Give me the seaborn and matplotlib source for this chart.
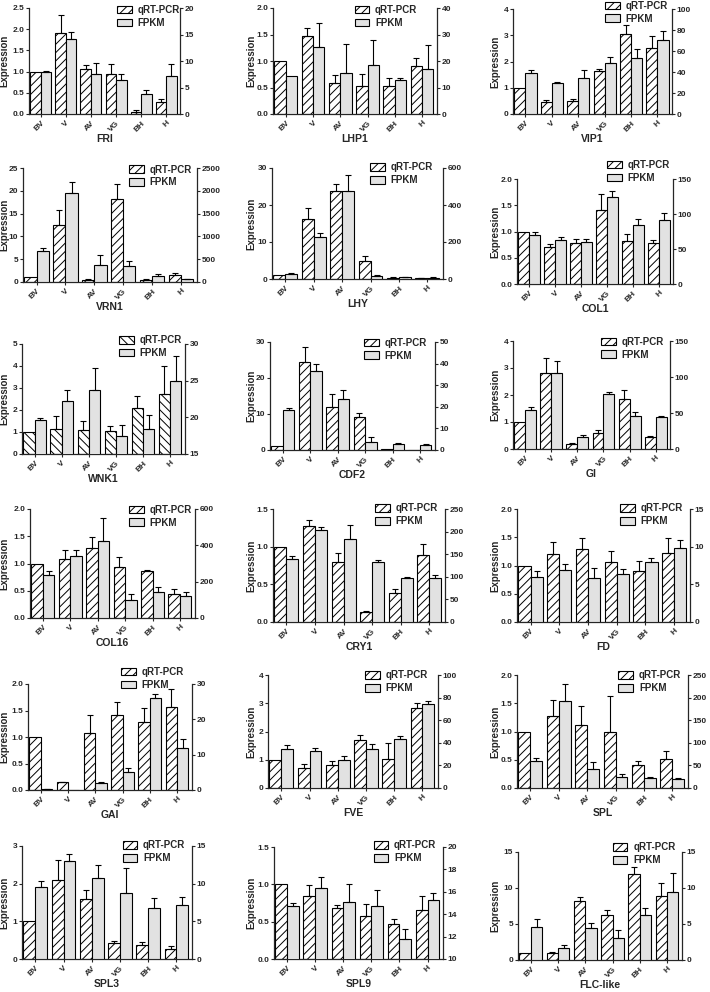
import numpy as np
import pandas as pd
import matplotlib
matplotlib.use("Agg")
import matplotlib.pyplot as plt
import matplotlib.transforms as mtransforms
import seaborn as sns
from matplotlib.patches import Patch

TISSUES = ["BV", "V", "AV", "VG", "BH", "H"]
GENES = ["FRI", "LHP1", "VIP1", "VRN1", "LHY", "COL1", "WNK1", "CDF2", "GI",
         "COL16", "CRY1", "FD", "GAI", "FVE", "SPL", "SPL3", "SPL9", "FLC-like"]

# qRT-PCR relative expression (left axis) + SD, FPKM (right axis) + SD
FRI_QRT = [1.0, 1.91, 1.05, 0.94, 0.04, 0.28]
FRI_QRT_SD = [0, 0.42, 0.10, 0.25, 0.05, 0.07]
FRI_FPKM = [7.9, 14.1, 7.6, 6.4, 3.8, 7.1]
FRI_FPKM_SD = [0.3, 1.4, 2.1, 1.2, 0.7, 2.3]

LHP1_QRT = [1.0, 1.48, 0.58, 0.53, 0.53, 0.90]
LHP1_QRT_SD = [0, 0.15, 0.16, 0.23, 0.15, 0.16]
LHP1_FPKM = [14.4, 25.2, 15.6, 18.5, 12.9, 16.9]
LHP1_FPKM_SD = [0, 9.2, 10.8, 9.5, 0.5, 9.0]

VIP1_QRT = [1.0, 0.46, 0.50, 1.63, 3.06, 2.51]
VIP1_QRT_SD = [0, 0.08, 0.08, 0.09, 0.32, 0.45]
VIP1_FPKM = [38.7, 29.9, 34.6, 48.7, 53.8, 70.8]
VIP1_FPKM_SD = [3.1, 0.6, 7.2, 5.7, 7.8, 7.8]

VRN1_QRT = [1.0, 12.4, 0.45, 18.1, 0.45, 1.55]
VRN1_QRT_SD = [0, 3.3, 0.15, 3.3, 0.1, 0.35]
VRN1_FPKM = [690, 1950, 370, 355, 125, 60]
VRN1_FPKM_SD = [60, 240, 215, 95, 45, 15]

LHY_QRT = [1.0, 16.2, 23.9, 4.8, 0.3, 0.2]
LHY_QRT_SD = [0, 3.0, 1.9, 1.3, 0.15, 0.1]
LHY_FPKM = [27, 225, 475, 18, 9, 7]
LHY_FPKM_SD = [5, 21, 87, 2, 2, 2]

COL1_QRT = [1.0, 0.70, 0.79, 1.41, 0.81, 0.78]
COL1_QRT_SD = [0, 0.07, 0.07, 0.30, 0.15, 0.05]
COL1_FPKM = [69.5, 62.4, 60.5, 123.8, 83.8, 91.0]
COL1_FPKM_SD = [4.8, 4.7, 3.8, 9.5, 9.1, 10.0]

WNK1_QRT = [1.0, 1.14, 1.08, 1.05, 2.08, 2.74]
WNK1_QRT_SD = [0, 0.57, 0.40, 0.21, 0.57, 1.26]
WNK1_FPKM = [19.6, 22.2, 23.7, 17.4, 18.4, 24.9]
WNK1_FPKM_SD = [0.3, 1.5, 3.0, 1.5, 1.9, 3.4]

CDF2_QRT = [1.0, 24.5, 12.0, 9.1, 0.2, 0.1]
CDF2_QRT_SD = [0, 4.1, 3.5, 1.1, 0, 0]
CDF2_FPKM = [18.5, 36.5, 23.5, 3.5, 2.6, 2.5]
CDF2_FPKM_SD = [1.0, 3.5, 4.5, 2.3, 0.5, 0.3]

GI_QRT = [1.0, 2.8, 0.2, 0.58, 1.86, 0.46]
GI_QRT_SD = [0, 0.58, 0.02, 0.12, 0.31, 0.04]
GI_FPKM = [53.5, 106, 16.6, 76, 45.6, 44.2]
GI_FPKM_SD = [4.5, 16, 3.2, 2.8, 6.0, 2.3]

COL16_QRT = [1.0, 1.09, 1.29, 0.94, 0.86, 0.44]
COL16_QRT_SD = [0, 0.16, 0.20, 0.18, 0.02, 0.09]
COL16_FPKM = [234, 342, 425, 101, 142, 123]
COL16_FPKM_SD = [26, 35, 127, 33, 29, 21]

CRY1_QRT = [1.0, 1.27, 0.80, 0.13, 0.38, 0.89]
CRY1_QRT_SD = [0, 0.09, 0.11, 0.01, 0.06, 0.15]
CRY1_FPKM = [139, 204, 183, 133, 97, 98]
CRY1_FPKM_SD = [6, 7, 32, 4, 1.5, 5]

FD_QRT = [1.0, 1.2, 1.29, 1.06, 0.91, 1.23]
FD_QRT_SD = [0, 0.22, 0.20, 0.20, 0.17, 0.26]
FD_FPKM = [6.0, 6.9, 5.9, 6.4, 8.0, 9.8]
FD_FPKM_SD = [0.8, 0.8, 1.3, 0.66, 0.45, 1.1]

GAI_QRT = [1.0, 0.145, 1.07, 1.41, 1.29, 1.56]
GAI_QRT_SD = [0, 0.015, 0.35, 0.25, 0.26, 0.34]
GAI_FPKM = [0.2, 0.1, 2.0, 5.2, 26, 12]
GAI_FPKM_SD = [0.1, 0, 0.2, 1.1, 1.2, 2.4]

FVE_QRT = [1.0, 0.72, 0.83, 1.69, 1.04, 2.82]
FVE_QRT_SD = [0, 0.14, 0.14, 0.2, 0.57, 0.18]
FVE_FPKM = [34.9, 32.8, 25.1, 34.3, 43.2, 74]
FVE_FPKM_SD = [3, 3, 3.3, 5, 2.7, 3.2]

SPL_QRT = [1.0, 1.27, 1.12, 0.99, 0.40, 0.51]
SPL_QRT_SD = [0, 0.29, 0.33, 0.64, 0.08, 0.14]
SPL_FPKM = [59, 193, 43, 24.4, 22.9, 20.7]
SPL_FPKM_SD = [8, 36, 15, 6, 1.5, 0.7]

SPL3_QRT = [1.0, 2.1, 1.58, 0.42, 0.38, 0.27]
SPL3_QRT_SD = [0, 0.54, 0.24, 0.06, 0.06, 0.07]
SPL3_FPKM = [9.5, 13.0, 10.8, 8.7, 6.8, 7.2]
SPL3_FPKM_SD = [0.8, 0.9, 1.7, 3.4, 1.3, 1.0]

SPL9_QRT = [1.0, 0.85, 0.68, 0.58, 0.475, 0.65]
SPL9_QRT_SD = [0, 0.14, 0.04, 0.16, 0.065, 0.2]
SPL9_FPKM = [14.76, 16.3, 15.1, 14.7, 11.76, 15.3]
SPL9_FPKM_SD = [0.24, 1.05, 1.6, 1.5, 0.94, 0.55]

FLC_QRT = [1.0, 1.0, 8.2, 6.2, 12.0, 8.9]
FLC_QRT_SD = [0, 0.15, 0.5, 0.8, 0.9, 1.8]
FLC_FPKM = [4.6, 1.7, 4.4, 3.0, 6.3, 9.4]
FLC_FPKM_SD = [1.1, 0.4, 0.8, 1.15, 0.95, 2.7]

QRT = [FRI_QRT, LHP1_QRT, VIP1_QRT, VRN1_QRT, LHY_QRT, COL1_QRT, WNK1_QRT,
       CDF2_QRT, GI_QRT, COL16_QRT, CRY1_QRT, FD_QRT, GAI_QRT, FVE_QRT,
       SPL_QRT, SPL3_QRT, SPL9_QRT, FLC_QRT]
QRT_SD = [FRI_QRT_SD, LHP1_QRT_SD, VIP1_QRT_SD, VRN1_QRT_SD, LHY_QRT_SD,
          COL1_QRT_SD, WNK1_QRT_SD, CDF2_QRT_SD, GI_QRT_SD, COL16_QRT_SD,
          CRY1_QRT_SD, FD_QRT_SD, GAI_QRT_SD, FVE_QRT_SD, SPL_QRT_SD,
          SPL3_QRT_SD, SPL9_QRT_SD, FLC_QRT_SD]
FPKM = [FRI_FPKM, LHP1_FPKM, VIP1_FPKM, VRN1_FPKM, LHY_FPKM, COL1_FPKM,
        WNK1_FPKM, CDF2_FPKM, GI_FPKM, COL16_FPKM, CRY1_FPKM, FD_FPKM,
        GAI_FPKM, FVE_FPKM, SPL_FPKM, SPL3_FPKM, SPL9_FPKM, FLC_FPKM]
FPKM_SD = [FRI_FPKM_SD, LHP1_FPKM_SD, VIP1_FPKM_SD, VRN1_FPKM_SD, LHY_FPKM_SD,
           COL1_FPKM_SD, WNK1_FPKM_SD, CDF2_FPKM_SD, GI_FPKM_SD, COL16_FPKM_SD,
           CRY1_FPKM_SD, FD_FPKM_SD, GAI_FPKM_SD, FVE_FPKM_SD, SPL_FPKM_SD,
           SPL3_FPKM_SD, SPL9_FPKM_SD, FLC_FPKM_SD]

# axis ranges (low, high, tick step)
LEFT_AXIS = [(0, 2.5, 0.5), (0, 2, 0.5), (0, 4, 1), (0, 25, 5), (0, 30, 10),
             (0, 2, 0.5), (0, 5, 1), (0, 30, 10), (0, 4, 1), (0, 2, 0.5),
             (0, 1.5, 0.5), (0, 2, 0.5), (0, 2, 0.5), (0, 4, 1), (0, 2, 0.5),
             (0, 3, 1), (0, 1.5, 0.5), (0, 15, 5)]
RIGHT_AXIS = [(0, 20, 5), (0, 40, 10), (0, 100, 20), (0, 2500, 500),
              (0, 600, 200), (0, 150, 50), (15, 30, 5), (0, 50, 10),
              (0, 150, 50), (0, 600, 200), (0, 250, 50), (0, 15, 5),
              (0, 30, 10), (0, 100, 20), (0, 250, 50), (0, 15, 5),
              (10, 20, 2), (0, 15, 5)]

# panel boxes in pixels (left, top, right, bottom) and legend anchors
W, H = 710, 992
BOXES = [(29, 8, 180, 114), (273, 8, 437, 114), (513, 9, 672, 114),
         (23, 168, 197, 282), (272, 168, 443, 279), (517, 179, 673, 284),
         (22, 344, 185, 454), (270, 342, 435, 450), (513, 341, 670, 449),
         (30, 509, 195, 618), (273, 509, 445, 622), (517, 509, 690, 622),
         (28, 684, 192, 790), (268, 675, 438, 788), (517, 675, 688, 788),
         (22, 846, 192, 959), (274, 847, 443, 959), (518, 852, 682, 960)]
LEG_POS = [(1.00, 1.03), (0.88, 1.03), (0.975, 1.08), (0.97, 1.03),
           (0.94, 1.05), (0.98, 1.18), (0.98, 1.08), (0.95, 1.04),
           (0.96, 1.04), (0.98, 1.04), (0.96, 1.05), (0.96, 1.05),
           (0.95, 1.16), (0.94, 1.04), (0.96, 1.04), (0.96, 1.05),
           (0.96, 1.06), (0.96, 1.09)]
YLABEL_X = [9, 256, 500]  # px, right edge of the rotated label, per column

FPKM_COLOR = "#e2e2e2"
SERIES = ["qRT-PCR", "FPKM"]
PALETTE = {"qRT-PCR": "white", "FPKM": FPKM_COLOR}

sns.set_style("ticks")
plt.rcParams["font.family"] = ["Liberation Sans", "DejaVu Sans"]
plt.rcParams["font.weight"] = "bold"
plt.rcParams["axes.labelweight"] = "bold"
plt.rcParams["hatch.linewidth"] = 0.7
plt.rcParams["axes.linewidth"] = 0.9


def fmt_ticks(lo, hi, step):
    ticks = np.arange(lo, hi + step / 2, step)
    if step < 1:
        labels = [f"{t:.1f}" for t in ticks]
    else:
        labels = [f"{t:.0f}" for t in ticks]
    return ticks, labels


def add_errorbars(ax, vals, sds):
    bars = sorted(ax.patches, key=lambda p: p.get_x())
    xs = [p.get_x() + p.get_width() / 2 for p in bars]
    for x, v, s in zip(xs, vals, sds):
        if s <= 0:
            continue
        ax.errorbar(x, v, yerr=[[0], [s]], fmt="none", ecolor="black",
                    elinewidth=0.8, capsize=2.2, capthick=0.8, zorder=3)


def draw_panel(fig, i):
    l, t, r, b = BOXES[i]
    ax = fig.add_axes([l / W, 1 - b / H, (r - l) / W, (b - t) / H])
    ax2 = ax.twinx()

    hatch = "\\\\\\\\" if GENES[i] == "WNK1" else "////"

    df_q = pd.DataFrame({"tissue": TISSUES, "value": QRT[i], "series": "qRT-PCR"})
    df_f = pd.DataFrame({"tissue": TISSUES, "value": FPKM[i], "series": "FPKM"})

    sns.barplot(data=df_q, x="tissue", y="value", hue="series", hue_order=SERIES,
                palette=PALETTE, order=TISSUES, errorbar=None, width=0.84,
                dodge=True, edgecolor="black", linewidth=0.8, legend=False, ax=ax)
    sns.barplot(data=df_f, x="tissue", y="value", hue="series", hue_order=SERIES,
                palette=PALETTE, order=TISSUES, errorbar=None, width=0.84,
                dodge=True, edgecolor="black", linewidth=0.8, legend=False, ax=ax2)
    for p in ax.patches:
        p.set_hatch(hatch)

    add_errorbars(ax, QRT[i], QRT_SD[i])
    add_errorbars(ax2, FPKM[i], FPKM_SD[i])

    lo, hi, st = LEFT_AXIS[i]
    ticks, labels = fmt_ticks(lo, hi, st)
    ax.set_ylim(lo, hi)
    ax.set_yticks(ticks)
    ax.set_yticklabels(labels)
    lo2, hi2, st2 = RIGHT_AXIS[i]
    ticks2, labels2 = fmt_ticks(lo2, hi2, st2)
    ax2.set_ylim(lo2, hi2)
    ax2.set_yticks(ticks2)
    ax2.set_yticklabels(labels2)
    ax2.set_ylabel("")

    ax.set_xlim(-0.47, 5.55)
    ax.set_xticks(range(len(TISSUES)))
    ax.set_xticklabels(TISSUES, rotation=45, ha="right", rotation_mode="anchor")
    ax.set_xlabel(GENES[i], fontsize=7.5, labelpad=1)
    ax.set_ylabel("Expression", fontsize=7)
    trans = mtransforms.blended_transform_factory(fig.transFigure, ax.transAxes)
    ax.yaxis.set_label_coords(YLABEL_X[i % 3] / W, 0.5, transform=trans)

    for a in (ax, ax2):
        a.tick_params(axis="both", labelsize=6, length=2.2, width=0.8, pad=1.2)
        a.spines["top"].set_visible(False)
    ax.spines["right"].set_visible(False)
    ax2.spines["left"].set_visible(False)
    ax2.spines["bottom"].set_visible(False)
    ax.tick_params(axis="x", length=2, pad=2)

    handles = [Patch(facecolor="white", edgecolor="black", hatch=hatch, linewidth=0.8),
               Patch(facecolor=FPKM_COLOR, edgecolor="black", linewidth=0.8)]
    lx, ly = LEG_POS[i]
    ax2.legend(handles, SERIES, loc="upper right", bbox_to_anchor=(lx, ly),
               frameon=False, fontsize=7, handlelength=1.5, handleheight=0.8,
               labelspacing=0.3, borderpad=0, borderaxespad=0, handletextpad=0.6)


fig = plt.figure(figsize=(W / 100, H / 100), dpi=100)
for i in range(len(GENES)):
    draw_panel(fig, i)

fig.savefig("out.png", dpi=100, facecolor="white")
